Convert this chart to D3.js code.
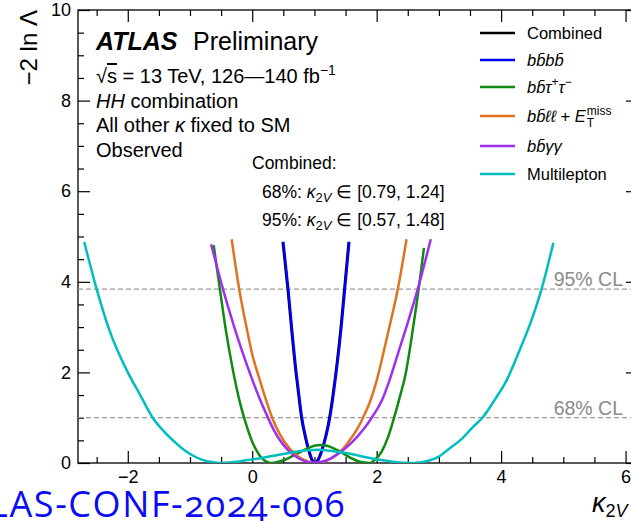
<!DOCTYPE html>
<html>
<head>
<meta charset="utf-8" />
<title>k2V scan</title>
<style>
  body { margin: 0; background: #fff; }
  svg { display: block; overflow: hidden; }
  svg text { font-family: "Liberation Sans", Arial, Helvetica, sans-serif; fill: #000; }
  .tick text { font-size: 18px; }
  .tick line { stroke: #000; stroke-width: 1.2; }
  .domain { display: none; }
</style>
<script src="https://cdnjs.cloudflare.com/ajax/libs/d3/7.8.5/d3.min.js"></script>
</head>
<body>
<div id="chart"></div>
<script>
// [kappa_2V, -2 ln Lambda]
var combined = [[0.49, 4.88], [0.57, 3.84], [0.63, 2.95], [0.68, 2.25], [0.735, 1.6], [0.79, 1.0], [0.85, 0.58],
  [0.9, 0.3], [0.95, 0.09], [1.0, 0.0], [1.05, 0.06], [1.12, 0.3], [1.18, 0.6], [1.24, 1.0], [1.3, 1.55],
  [1.36, 2.2], [1.42, 2.95], [1.48, 3.84], [1.55, 4.88]];
var bbbb = [[0.5, 4.88], [0.58, 3.84], [0.64, 2.95], [0.69, 2.25], [0.745, 1.6], [0.8, 1.0], [0.86, 0.58],
  [0.91, 0.3], [0.96, 0.09], [1.01, 0.0], [1.06, 0.06], [1.13, 0.3], [1.19, 0.6], [1.25, 1.0], [1.31, 1.55],
  [1.37, 2.2], [1.43, 2.95], [1.49, 3.84], [1.56, 4.88]];
var bbtautau = [[-0.62, 4.81], [-0.52, 3.84], [-0.42, 2.9], [-0.31, 2.05], [-0.2, 1.35], [-0.12, 0.95], [0.0, 0.47],
  [0.08, 0.25], [0.15, 0.11], [0.23, 0.03], [0.31, 0.0], [0.4, 0.02], [0.5, 0.06], [0.6, 0.12], [0.7, 0.19],
  [0.8, 0.26], [0.9, 0.33], [1.0, 0.38], [1.1, 0.4], [1.2, 0.38], [1.3, 0.33], [1.4, 0.26], [1.5, 0.18],
  [1.6, 0.1], [1.7, 0.04], [1.8, 0.01], [1.88, 0.0], [1.97, 0.07], [2.08, 0.25], [2.18, 0.56], [2.28, 1.0],
  [2.37, 1.45], [2.47, 2.0], [2.56, 2.75], [2.64, 3.5], [2.7, 4.1], [2.76, 4.75]];
var bbllmet = [[-0.33, 4.94], [-0.21, 3.84], [-0.1, 3.05], [0.0, 2.4], [0.12, 1.84], [0.22, 1.4], [0.32, 1.0],
  [0.45, 0.62], [0.6, 0.32], [0.75, 0.13], [0.9, 0.03], [1.03, 0.0], [1.15, 0.03], [1.3, 0.13], [1.45, 0.3],
  [1.6, 0.57], [1.7, 0.78], [1.78, 1.0], [1.9, 1.38], [2.0, 1.82], [2.12, 2.5], [2.23, 3.15], [2.34, 3.84],
  [2.48, 4.94]];
var bbyy = [[-0.66, 4.83], [-0.47, 3.84], [-0.3, 3.05], [-0.15, 2.42], [-0.01, 1.88], [0.12, 1.42], [0.24, 1.04],
  [0.35, 0.72], [0.5, 0.4], [0.62, 0.23], [0.75, 0.1], [0.87, 0.03], [0.98, 0.0], [1.1, 0.02], [1.25, 0.09],
  [1.4, 0.22], [1.55, 0.39], [1.7, 0.6], [1.82, 0.8], [1.92, 1.0], [2.09, 1.4], [2.21, 1.84], [2.35, 2.45],
  [2.5, 3.1], [2.66, 3.84], [2.87, 4.94]];
var multilepton = [[-2.7, 4.88], [-2.5, 3.84], [-2.3, 2.95], [-2.0, 2.0], [-1.8, 1.5], [-1.6, 1.0], [-1.42, 0.7],
  [-1.25, 0.47], [-1.1, 0.29], [-0.95, 0.16], [-0.8, 0.07], [-0.65, 0.02], [-0.5, 0.0], [-0.3, 0.02],
  [-0.1, 0.06], [0.1, 0.1], [0.3, 0.15], [0.5, 0.2], [0.7, 0.25], [0.9, 0.28], [1.06, 0.29], [1.25, 0.27],
  [1.45, 0.23], [1.65, 0.18], [1.85, 0.12], [2.05, 0.07], [2.25, 0.03], [2.45, 0.005], [2.6, 0.0], [2.8, 0.04],
  [3.0, 0.14], [3.15, 0.3], [3.38, 0.55], [3.55, 0.8], [3.7, 1.0], [3.9, 1.4], [4.09, 1.83], [4.3, 2.5],
  [4.5, 3.2], [4.65, 3.84], [4.84, 4.86]];

var series = [combined, bbbb, bbtautau, bbllmet, bbyy, multilepton];
var colors = ['#000000', '#0000ff', '#118a11', '#e0721f', '#9e30f0', '#00bebe'];
var xMajor = [-2, 0, 2, 4, 6];
var yMajor = [0, 2, 4, 6, 8, 10];
var clLevels = [1, 3.84];
var clLabels = ['68% CL', '95% CL'];

var W = 631, H = 521;
var x = d3.scaleLinear().domain([-2.8, 6.2]).range([78, 638]);
var y = d3.scaleLinear().domain([0, 10]).range([463, 10]);

var svg = d3.select('#chart').append('svg').attr('width', W).attr('height', H);

svg.append('clipPath').attr('id', 'clip').append('rect')
  .attr('x', x.range()[0]).attr('y', y.range()[1])
  .attr('width', x.range()[1] - x.range()[0]).attr('height', y.range()[0] - y.range()[1]);

// minor ticks every 0.5
var xMinor = d3.range(-2.5, 6.01, 0.5).filter(v => xMajor.indexOf(v) < 0);
var yMinor = d3.range(0.5, 9.6, 0.5).filter(v => yMajor.indexOf(v) < 0);

function axes(gen, scale, major, minor, tx, ty, labels) {
  svg.append('g').attr('transform', 'translate(' + tx + ',' + ty + ')')
    .call(gen(scale).tickValues(major).tickSize(-12).tickPadding(labels ? 7 : 0)
      .tickFormat(labels ? d3.format('') : ''));
  svg.append('g').attr('transform', 'translate(' + tx + ',' + ty + ')')
    .call(gen(scale).tickValues(minor).tickSize(-6).tickFormat(''));
}
axes(d3.axisBottom, x, xMajor, xMinor, 0, y.range()[0], true);
axes(d3.axisTop, x, xMajor, xMinor, 0, y.range()[1], false);
axes(d3.axisLeft, y, yMajor, yMinor, x.range()[0], 0, true);
axes(d3.axisRight, y, yMajor, yMinor, x.range()[1], 0, false);

svg.append('rect')
  .attr('x', x.range()[0]).attr('y', y.range()[1])
  .attr('width', x.range()[1] - x.range()[0]).attr('height', y.range()[0] - y.range()[1])
  .attr('fill', 'none').attr('stroke', '#000').attr('stroke-width', 1.3);

// CL lines
svg.selectAll('.cl').data(clLevels).enter().append('line')
  .attr('x1', x.range()[0]).attr('x2', x.range()[1])
  .attr('y1', d => y(d)).attr('y2', d => y(d))
  .attr('stroke', '#999').attr('stroke-width', 1.2).attr('stroke-dasharray', '5,3');
svg.selectAll('.cltext').data(clLevels).enter().append('text')
  .attr('x', 623).attr('y', d => y(d) - 3)
  .attr('text-anchor', 'end').style('font-size', '19.5px').style('fill', '#8a8a8a')
  .text((d, i) => clLabels[i]);

var line = d3.line().x(d => x(d[0])).y(d => y(d[1])).curve(d3.curveMonotoneX);
svg.append('g').attr('clip-path', 'url(#clip)')
  .selectAll('path').data(series).enter().append('path')
  .attr('d', line).attr('fill', 'none')
  .attr('stroke', (d, i) => colors[i]).attr('stroke-width', 2.5);

// rich text helper: parts = [text, style, shift, size]
function rich(x0, y0, size, parts, anchor) {
  var t = svg.append('text').attr('x', x0).attr('y', y0).style('font-size', size + 'px');
  if (anchor) t.attr('text-anchor', anchor);
  var shift = 0;
  parts.forEach(function (p) {
    var s = t.append('tspan').text(p[0]);
    var want = p[2] || 0;
    if (want !== shift) { s.attr('dy', want - shift); shift = want; }
    if (p[1] && p[1].indexOf('i') >= 0) s.style('font-style', 'italic');
    if (p[1] && p[1].indexOf('b') >= 0) s.style('font-weight', 'bold');
    if (p[1] && p[1].indexOf('o') >= 0) s.style('text-decoration', 'overline');
    if (p[3]) s.style('font-size', p[3] + 'px');
  });
  return t;
}

// axis titles
rich(0, 0, 24, [['\u22122 ln \u039b']], 'end').attr('transform', 'translate(37,10) rotate(-90)');
rich(592, 512, 27, [['\u03ba', 'i'], ['2', '', 5, 18], ['V', 'i', 5, 18]]);

// top-left text block
rich(96, 50, 25, [['ATLAS', 'bi']]);
rich(193, 50, 25, [['Preliminary']]);
rich(96, 83, 20, [['\u221a'], ['s', 'o'], [' = 13 TeV, 126\u2014140 fb'], ['\u22121', '', -8, 14]]);
rich(96, 108, 20, [['HH', 'i'], [' combination']]);
rich(96, 132, 20, [['All other '], ['\u03ba', 'i'], [' fixed to SM']]);
rich(96, 157, 20, [['Observed']]);

rich(252, 169, 17.5, [['Combined:']]);
rich(262, 198, 17.5, [['68%: '], ['\u03ba', 'i'], ['2', '', 4, 13], ['V', 'i', 4, 13], [' \u2208 [0.79, 1.24]', '', 0]]);
rich(262, 226, 17.5, [['95%: '], ['\u03ba', 'i'], ['2', '', 4, 13], ['V', 'i', 4, 13], [' \u2208 [0.57, 1.48]', '', 0]]);

// legend
var legendY = [33, 60, 87, 116, 146, 174];
var legendText = [
  [['Combined']],
  [['bb\u0304bb\u0304', 'i']],
  [['bb\u0304\u03c4', 'i'], ['+', '', -7, 12], ['\u03c4', 'i', 0], ['\u2212', '', -7, 12]],
  [['bb\u0304\u2113\u2113', 'i'], [' + '], ['E', 'i']],
  [['bb\u0304\u03b3\u03b3', 'i']],
  [['Multilepton']]
];
legendY.forEach(function (ly, i) {
  svg.append('line').attr('x1', 480).attr('x2', 515).attr('y1', ly).attr('y2', ly)
    .attr('stroke', colors[i]).attr('stroke-width', 2.5);
  var t = rich(527, ly + 6, 16.5, legendText[i]);
  if (i === 3) {
    var len = t.node().getComputedTextLength();
    rich(527 + len + 1, ly - 1, 12, [['miss']]);
    rich(527 + len + 1, ly + 11, 12, [['T']]);
  }
});

// conference note stamp
svg.append('text').attr('x', 346).attr('y', 517).attr('text-anchor', 'end')
  .style('font-family', '"Open Sans", Lato, sans-serif').style('font-size', '36px')
  .style('letter-spacing', '1.6px')
  .style('font-variant-numeric', 'oldstyle-nums').style('fill', '#0b0bf5')
  .text('ATLAS-CONF-2024-006');
</script>
</body>
</html>
